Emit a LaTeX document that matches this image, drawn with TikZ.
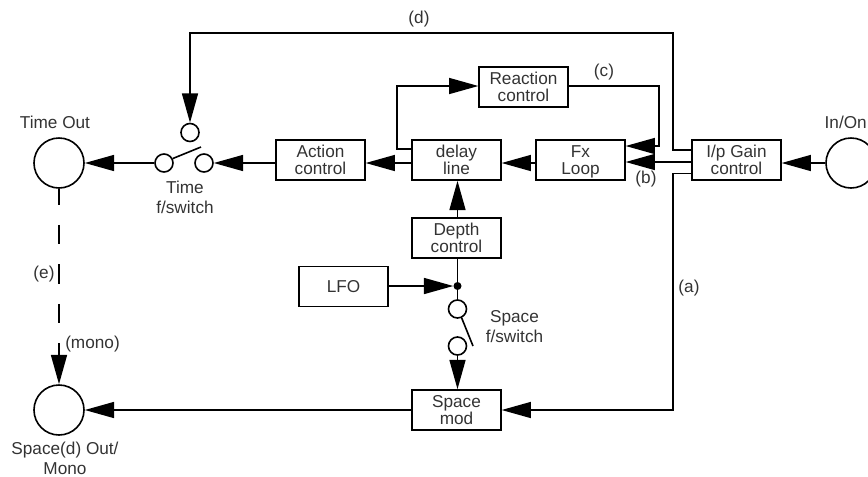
\documentclass[tikz,border=0pt]{standalone}
\usepackage{fontspec}
\setmainfont{Liberation Sans}
\usetikzlibrary{arrows.meta}
\definecolor{ink}{HTML}{333333}
\tikzset{
  block/.style={draw, line width=1.2pt, text=ink, minimum width=66.5pt, minimum height=30pt, inner sep=0pt, align=center, text depth=0pt, font=\fontsize{12.9}{12.7}\selectfont},
  jack/.style={draw, circle, line width=1.2pt, minimum size=37.5pt, inner sep=0pt},
  contact/.style={draw, circle, line width=1.2pt, fill=white, minimum size=13.5pt, inner sep=0pt},
  tag/.style={text=ink, inner sep=0pt, align=center},
  wire/.style={line width=1.2pt},
  flow/.style={wire, -{Triangle[length=22pt, width=12pt]}}
}
\begin{document}
\begin{tikzpicture}[x=0.75pt, y=-0.75pt, font=\fontsize{12.9}{15}\selectfont]
    \useasboundingbox (0,0) rectangle (868,476);
    % jacks
    \node[jack] (timeout) at (59,163) {};
    \node[jack] (spaceout) at (59,410) {};
    \node[jack] (inon) at (851,163) {};
    % blocks
    \node[block] (action) at (320.5,160) {Action\\control};
    \node[block] (delay) at (456.5,160) {delay\\line};
    \node[block] (fxloop) at (580.5,160) {Fx\\Loop};
    \node[block] (gain) at (736.5,160) {I/p Gain\\control};
    \node[block] (reaction) at (523.5,87) {Reaction\\control};
    \node[block] (depth) at (456.5,238) {Depth\\control};
    \node[block] (lfo) at (343.5,286.5) {LFO};
    \node[block] (spacemod) at (456.5,410) {Space\\mod};
    % switches
    \node[contact] (tsleft) at (164,163) {};
    \node[contact] (tsright) at (204,163) {};
    \node[contact] (tstop) at (190,132.5) {};
    \coordinate (tslever) at (201,147);
    \node[contact] (ssup) at (457.5,309) {};
    \node[contact] (ssdown) at (457.5,346) {};
    \coordinate (sslever) at (473,346);
    \node[circle, fill=black, minimum size=6pt, inner sep=0pt] (join) at (457.5,286) {};
    \draw[wire] (tsleft.27) -- (tslever);
    \draw[wire] (ssup.-65) -- (sslever);
    % main path
    \draw[flow] (inon.west) -- (gain.east |- inon);
    \draw[flow] (gain.west |- 0,162) -- (fxloop.east |- 0,162);
    \draw[flow] (fxloop.west |- inon) -- (delay.east |- inon);
    \draw[flow] (delay.west |- inon) -- (action.east |- inon);
    \draw[flow] (action.west |- inon) -- (tsright.east);
    \draw[flow] (tsleft.west) -- (timeout.east);
    % feedback
    \draw[flow] (delay.west |- 0,149) -- (397,149) -- (397,86) -- (reaction.west |- 0,86);
    \draw[flow] (reaction.east |- 0,86) -- (659,86) -- (659,146) -- (fxloop.east |- 0,146);
    % (d) and (a)
    \draw[flow] (gain.west |- 0,150) -- (673,150) -- (673,33) -- (tstop |- 0,33) -- (tstop.north);
    \draw[flow] (gain.west |- 0,173.5) -- (673,173.5) -- (673,410) -- (spacemod.east);
    % modulation
    \draw[flow] (depth.north -| join) -- (delay.south -| join);
    \draw[wire] (depth.south -| join) -- (join) -- (ssup.north);
    \draw[flow] (lfo.east |- join) -- (join.west);
    \draw[flow] (ssdown.south) -- (spacemod.north -| ssdown);
    % outputs
    \draw[flow] (spacemod.west) -- (spaceout.east);
    \draw[flow, dash pattern=on 19.5*0.75pt off 20*0.75pt, dash phase=2.5pt] (timeout.south) -- (spaceout.north);
    % labels
    \node[tag] (ltimeout) at (55,122) {Time Out};
    \node[tag] (lspaceout) at (65,458) {Space(d) Out/\\Mono};
    \node[tag, anchor=east] (linon) at (867,122) {In/On};
    \node[tag] (lts) at (185,197) {Time\\f/switch};
    \node[tag] (lss) at (514.5,327) {Space\\f/switch};
    \node[tag] (ld) at (419,19) {(d)};
    \node[tag] (lc) at (604,72) {(c)};
    \node[tag] (lb) at (646,179) {(b)};
    \node[tag] (la) at (689,288) {(a)};
    \node[tag] (le) at (44,274) {(e)};
    \node[tag, anchor=west] (lmono) at (65,344) {(mono)};
\end{tikzpicture}
\end{document}
